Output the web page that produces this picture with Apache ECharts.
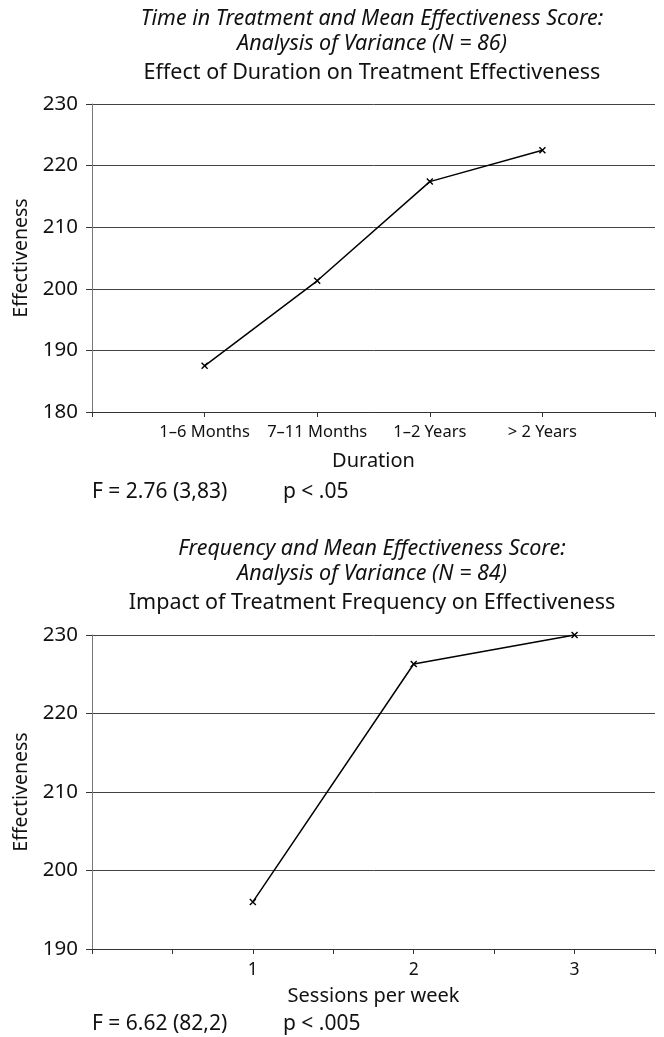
<!DOCTYPE html>
<html>
<head>
<meta charset="utf-8">
<script src="https://cdn.jsdelivr.net/npm/echarts@6/dist/echarts.min.js"></script>
<style>html,body{margin:0;padding:0;background:#fff;}#c{width:664px;height:1037px;}</style>
</head>
<body>
<div id="c"></div>
<script>
// ---- data ----
const durationCategories = ['1–6 Months', '7–11 Months', '1–2 Years', '> 2 Years'];
const durationPositions = [1, 2, 3, 4];
const durationValues = [187.5, 201.3, 217.4, 222.5];
const durationYTicks = [180, 190, 200, 210, 220, 230];

const sessionsPerWeek = [1, 2, 3];
const sessionsValues = [196.0, 226.3, 230.0];
const sessionsYTicks = [190, 200, 210, 220, 230];

const titles1 = ['Time in Treatment and Mean Effectiveness Score:', 'Analysis of Variance (N = 86)', 'Effect of Duration on Treatment Effectiveness'];
const titles2 = ['Frequency and Mean Effectiveness Score:', 'Analysis of Variance (N = 84)', 'Impact of Treatment Frequency on Effectiveness'];
const stats1 = ['F = 2.76 (3,83)', 'p < .05'];
const stats2 = ['F = 6.62 (82,2)', 'p < .005'];

// ---- chart ----
const FONT = '"Noto Sans", "Open Sans", sans-serif';
const TXT = '#111';
const cross = 'path://M0,0L10,10M10,0L0,10';
const chart = echarts.init(document.getElementById('c'), null, {renderer: 'canvas'});

function txt(x, y, s, size, opts) {
  return {
    type: 'text', x: x, y: y, silent: true,
    style: {text: s, fill: TXT, font: (opts && opts.italic ? 'italic ' : '') + size + 'px ' + FONT,
      align: (opts && opts.align) || 'center', verticalAlign: 'middle'}
  };
}
const cx = 372;

const yAxisCommon = {
  type: 'value', interval: 10,
  axisLine: {show: true, lineStyle: {color: '#777', width: 1}},
  axisTick: {show: true, length: 6, lineStyle: {color: '#333'}},
  axisLabel: {color: TXT, fontSize: 20.5, fontFamily: FONT, margin: 14},
  splitLine: {show: true, lineStyle: {color: '#444', width: 1}},
  name: 'Effectiveness', nameLocation: 'middle', nameRotate: 90, nameGap: 56,
  nameTextStyle: {color: TXT, fontSize: 19.5, fontFamily: FONT}
};

const option = {
  backgroundColor: '#fff',
  animation: false,
  grid: [
    {left: 92, right: 9, top: 104, height: 308, containLabel: false},
    {left: 92, right: 9, top: 635, height: 314, containLabel: false}
  ],
  xAxis: [
    {
      gridIndex: 0, type: 'value', min: 0, max: 5, interval: 1,
      axisLine: {show: true, lineStyle: {color: '#333', width: 1}},
      axisTick: {show: true, length: 5, lineStyle: {color: '#333'}},
      axisLabel: {color: TXT, fontSize: 16.5, fontFamily: FONT, margin: 12,
        formatter: v => (v >= 1 && v <= durationCategories.length) ? durationCategories[v - 1] : '',
        showMinLabel: true, showMaxLabel: true},
      splitLine: {show: false},
      name: 'Duration', nameLocation: 'middle', nameGap: 39,
      nameTextStyle: {color: TXT, fontSize: 20, fontFamily: FONT}
    },
    {
      gridIndex: 1, type: 'value', min: 0, max: 3.5, interval: 0.5,
      axisLine: {show: true, lineStyle: {color: '#333', width: 1}},
      axisTick: {show: true, length: 5, lineStyle: {color: '#333'}},
      axisLabel: {color: TXT, fontSize: 17.5, fontFamily: FONT, margin: 12,
        formatter: v => (sessionsPerWeek.indexOf(v) >= 0) ? String(v) : ''},
      splitLine: {show: false},
      name: 'Sessions per week', nameLocation: 'middle', nameGap: 37,
      nameTextStyle: {color: TXT, fontSize: 20, fontFamily: FONT}
    }
  ],
  yAxis: [
    Object.assign({}, yAxisCommon, {gridIndex: 0, min: durationYTicks[0], max: durationYTicks[durationYTicks.length - 1]}),
    Object.assign({}, yAxisCommon, {gridIndex: 1, min: sessionsYTicks[0], max: sessionsYTicks[sessionsYTicks.length - 1]})
  ],
  series: [
    {
      type: 'line', xAxisIndex: 0, yAxisIndex: 0,
      data: durationPositions.map((p, i) => [p, durationValues[i]]),
      lineStyle: {color: '#000', width: 1.5},
      symbol: cross, symbolSize: 6, showSymbol: true, clip: false,
      itemStyle: {color: '#000', borderColor: '#000', borderWidth: 1.4}
    },
    {
      type: 'line', xAxisIndex: 1, yAxisIndex: 1,
      data: sessionsPerWeek.map((p, i) => [p, sessionsValues[i]]),
      lineStyle: {color: '#000', width: 1.5},
      symbol: cross, symbolSize: 6, showSymbol: true, clip: false,
      itemStyle: {color: '#000', borderColor: '#000', borderWidth: 1.4}
    }
  ],
  graphic: [
    txt(cx, 19, titles1[0], 21.5, {italic: true}),
    txt(cx, 44, titles1[1], 21.5, {italic: true}),
    txt(cx, 73, titles1[2], 21.5),
    txt(92, 492, stats1[0], 21, {align: 'left'}),
    txt(283, 492, stats1[1], 21, {align: 'left'}),
    txt(cx, 549, titles2[0], 21.5, {italic: true}),
    txt(cx, 574, titles2[1], 21.5, {italic: true}),
    txt(cx, 603, titles2[2], 21.5),
    txt(92, 1024, stats2[0], 21, {align: 'left'}),
    txt(283, 1024, stats2[1], 21, {align: 'left'})
  ]
};
chart.setOption(option);
</script>
</body>
</html>
